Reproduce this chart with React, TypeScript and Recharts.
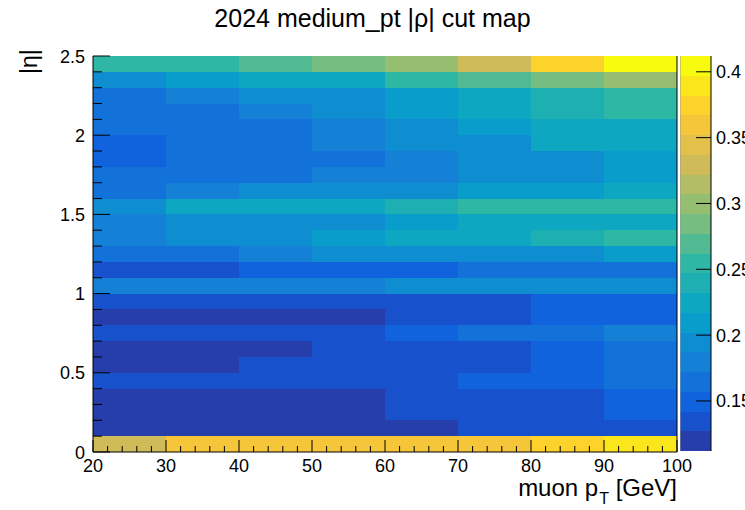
import React from 'react';
import { ScatterChart, Scatter, XAxis, YAxis, ReferenceArea, ReferenceLine } from 'recharts';

const FONT = '"Liberation Sans", Arial, Helvetica, sans-serif';

// bin edges of the map
const PT_EDGES = [20, 30, 40, 50, 60, 70, 80, 90, 100];
const ETA_EDGES = [
  0, 0.1, 0.2, 0.3, 0.4, 0.5, 0.6, 0.7, 0.8, 0.9, 1.0, 1.1, 1.2,
  1.3, 1.4, 1.5, 1.6, 1.7, 1.8, 1.9, 2.0, 2.1, 2.2, 2.3, 2.4, 2.5,
];

// |rho| cut per |eta| bin (0 -> 2.5), one array per muon pT bin
const cutPt20 = [0.33, 0.118, 0.121, 0.119, 0.134, 0.123, 0.125, 0.131, 0.117, 0.136, 0.178, 0.133, 0.163, 0.181, 0.176, 0.194, 0.166, 0.168, 0.151, 0.148, 0.165, 0.167, 0.163, 0.193, 0.254];
const cutPt30 = [0.36, 0.116, 0.12, 0.122, 0.135, 0.124, 0.126, 0.133, 0.119, 0.137, 0.18, 0.131, 0.162, 0.195, 0.19, 0.226, 0.182, 0.167, 0.164, 0.166, 0.168, 0.161, 0.179, 0.209, 0.256];
const cutPt40 = [0.358, 0.119, 0.122, 0.12, 0.136, 0.129, 0.124, 0.134, 0.121, 0.135, 0.179, 0.148, 0.177, 0.196, 0.193, 0.228, 0.194, 0.166, 0.163, 0.168, 0.166, 0.181, 0.197, 0.224, 0.27];
const cutPt50 = [0.361, 0.121, 0.123, 0.121, 0.137, 0.132, 0.131, 0.136, 0.122, 0.138, 0.181, 0.151, 0.194, 0.211, 0.196, 0.227, 0.196, 0.178, 0.167, 0.177, 0.178, 0.195, 0.198, 0.226, 0.284];
const cutPt60 = [0.359, 0.124, 0.132, 0.133, 0.138, 0.135, 0.134, 0.149, 0.133, 0.139, 0.194, 0.152, 0.196, 0.223, 0.209, 0.24, 0.195, 0.183, 0.181, 0.192, 0.194, 0.208, 0.211, 0.255, 0.3];
const cutPt70 = [0.362, 0.134, 0.136, 0.137, 0.152, 0.138, 0.137, 0.164, 0.136, 0.139, 0.197, 0.166, 0.195, 0.224, 0.225, 0.254, 0.209, 0.196, 0.193, 0.195, 0.209, 0.222, 0.226, 0.27, 0.331];
const cutPt80 = [0.375, 0.137, 0.138, 0.139, 0.153, 0.151, 0.149, 0.166, 0.151, 0.152, 0.198, 0.167, 0.197, 0.238, 0.226, 0.256, 0.21, 0.197, 0.196, 0.224, 0.226, 0.239, 0.241, 0.285, 0.374];
const cutPt90 = [0.392, 0.139, 0.153, 0.154, 0.168, 0.167, 0.168, 0.181, 0.154, 0.155, 0.199, 0.169, 0.211, 0.253, 0.227, 0.257, 0.226, 0.212, 0.211, 0.227, 0.228, 0.256, 0.257, 0.301, 0.41];
const CUTS_BY_PT = [cutPt20, cutPt30, cutPt40, cutPt50, cutPt60, cutPt70, cutPt80, cutPt90];

// axis labels
const PT_LABELS = [20, 30, 40, 50, 60, 70, 80, 90, 100];
const ETA_LABELS = [0, 0.5, 1, 1.5, 2, 2.5];
const Z_LABELS = [0.15, 0.2, 0.25, 0.3, 0.35, 0.4];
const PT_MINOR = Array.from({ length: 41 }, (_, i) => 20 + 2 * i);

// colour scale (20 contour levels, like COLZ)
const Z_MIN = 0.112;
const Z_MAX = 0.412;
const N_LEVELS = 20;

// kBird palette stops
const BIRD = [
  [0.2082, 0.1664, 0.5293],
  [0.0592, 0.3599, 0.8684],
  [0.078, 0.5041, 0.8385],
  [0.0232, 0.6419, 0.7914],
  [0.1802, 0.7178, 0.6425],
  [0.5301, 0.7492, 0.4662],
  [0.8186, 0.7328, 0.3499],
  [0.9956, 0.7862, 0.1968],
  [0.9764, 0.9832, 0.0539],
];

function birdColor(f: number) {
  const t = Math.min(Math.max(f, 0), 1) * (BIRD.length - 1);
  const i = Math.min(Math.floor(t), BIRD.length - 2);
  const u = t - i;
  const c = BIRD[i].map((a, k) => Math.round((a + (BIRD[i + 1][k] - a) * u) * 255));
  return `rgb(${c[0]},${c[1]},${c[2]})`;
}

function levelOf(v: number) {
  const l = Math.floor(((v - Z_MIN) / (Z_MAX - Z_MIN)) * N_LEVELS);
  return Math.min(Math.max(l, 0), N_LEVELS - 1);
}

const levelColor = (l: number) => birdColor((l + 0.99) / N_LEVELS);

const cells = CUTS_BY_PT.flatMap((col, i) =>
  col.map((v, j) => ({
    pt: (PT_EDGES[i] + PT_EDGES[i + 1]) / 2,
    eta: (ETA_EDGES[j] + ETA_EDGES[j + 1]) / 2,
    x1: PT_EDGES[i],
    x2: PT_EDGES[i + 1],
    y1: ETA_EDGES[j],
    y2: ETA_EDGES[j + 1],
    v,
  })),
);

const levels = Array.from({ length: N_LEVELS }, (_, l) => ({
  l,
  lo: Z_MIN + ((Z_MAX - Z_MIN) * l) / N_LEVELS,
  hi: Z_MIN + ((Z_MAX - Z_MIN) * (l + 1)) / N_LEVELS,
}));

const CellRect = (p: any) => (
  <rect x={p.x} y={p.y} width={p.width} height={p.height} fill={p.fill} shapeRendering="crispEdges" />
);

const NoDot = () => null;

// ticks point inwards, like a ROOT frame
function EtaTick({ x, y, payload }: any) {
  const major = ETA_LABELS.includes(payload.value);
  return (
    <g>
      <line x1={x} x2={x + (major ? 17 : 9)} y1={y} y2={y} stroke="#000" />
      {major && (
        <text x={x - 8} y={y} dy={6.5} textAnchor="end" fontSize={18} fontFamily={FONT} fill="#000">
          {String(payload.value)}
        </text>
      )}
    </g>
  );
}

function PtTick({ x, y, payload }: any) {
  const major = PT_LABELS.includes(payload.value);
  return (
    <g>
      <line x1={x} x2={x} y1={y} y2={y - (major ? 12 : 6)} stroke="#000" />
      {major && (
        <text x={x} y={y + 20} textAnchor="middle" fontSize={18} fontFamily={FONT} fill="#000">
          {String(payload.value)}
        </text>
      )}
    </g>
  );
}

function ZTick({ x, y, payload }: any) {
  return (
    <g>
      <line x1={x} x2={x - 15} y1={y} y2={y} stroke="#000" />
      <text x={x + 5} y={y} dy={6.5} textAnchor="start" fontSize={18} fontFamily={FONT} fill="#000">
        {String(payload.value)}
      </text>
    </g>
  );
}

export default function App() {
  return (
    <div style={{ position: 'absolute', left: 0, top: 0, width: 745, height: 510, background: '#fff', fontFamily: FONT, overflow: 'hidden' }}>
      <ScatterChart width={745} height={510} margin={{ top: 56, right: 68, bottom: 28, left: 53 }}>
        <Scatter data={cells} dataKey="eta" shape={NoDot} isAnimationActive={false} />
        {cells.map((c, k) => (
          <ReferenceArea
            key={k}
            x1={c.x1}
            x2={c.x2}
            y1={c.y1}
            y2={c.y2}
            fill={levelColor(levelOf(c.v))}
            fillOpacity={1}
            stroke="none"
            ifOverflow="visible"
            shape={CellRect}
          />
        ))}
        <ReferenceLine x={100} stroke="#000" ifOverflow="visible" />
        <XAxis
          type="number"
          dataKey="pt"
          domain={[20, 100]}
          ticks={PT_MINOR}
          interval={0}
          allowDataOverflow
          height={30}
          tickSize={0}
          tickMargin={0}
          tickLine={false}
          axisLine={{ stroke: '#000' }}
          tick={<PtTick />}
        />
        <YAxis
          type="number"
          dataKey="eta"
          domain={[0, 2.5]}
          ticks={ETA_EDGES}
          interval={0}
          allowDataOverflow
          width={40}
          tickSize={0}
          tickMargin={0}
          tickLine={false}
          axisLine={{ stroke: '#000' }}
          tick={<EtaTick />}
        />
      </ScatterChart>

      {/* colour bar */}
      <div style={{ position: 'absolute', left: 680, top: 0 }}>
        <ScatterChart width={65} height={510} margin={{ top: 56, right: 0, bottom: 59, left: 0 }}>
          <Scatter data={levels.map((b) => ({ x: 0.5, z: (b.lo + b.hi) / 2 }))} dataKey="z" shape={NoDot} isAnimationActive={false} />
          {levels.map((b) => (
            <ReferenceArea
              key={b.l}
              x1={0}
              x2={1}
              y1={b.lo}
              y2={b.hi}
              fill={levelColor(b.l)}
              fillOpacity={1}
              stroke="none"
              ifOverflow="visible"
              shape={CellRect}
            />
          ))}
          <ReferenceLine x={0} stroke="#9a9a9a" ifOverflow="visible" />
          <XAxis type="number" dataKey="x" domain={[0, 1]} hide />
          <YAxis
            orientation="right"
            type="number"
            dataKey="z"
            domain={[Z_MIN, Z_MAX]}
            ticks={Z_LABELS}
            interval={0}
            allowDataOverflow
            width={34}
            tickSize={0}
            tickMargin={0}
            tickLine={false}
            axisLine={{ stroke: '#000' }}
            tick={<ZTick />}
          />
        </ScatterChart>
      </div>

      <div style={{ position: 'absolute', left: 0, width: 745, top: 4, textAlign: 'center', fontSize: 25, color: '#000' }}>
        2024 medium_pt |ρ| cut map
      </div>
      <div style={{ position: 'absolute', right: 68, top: 474, fontSize: 24, color: '#000', whiteSpace: 'nowrap' }}>
        muon p<sub style={{ fontSize: 16, verticalAlign: -8, marginLeft: 1 }}>T</sub> [GeV]
      </div>
      <div
        style={{
          position: 'absolute',
          left: 16,
          top: 40,
          fontSize: 23,
          color: '#000',
          lineHeight: '26px',
          transformOrigin: 'left top',
          transform: 'translate(0, 34px) rotate(-90deg)',
          whiteSpace: 'nowrap',
        }}
      >
        |η|
      </div>
    </div>
  );
}
